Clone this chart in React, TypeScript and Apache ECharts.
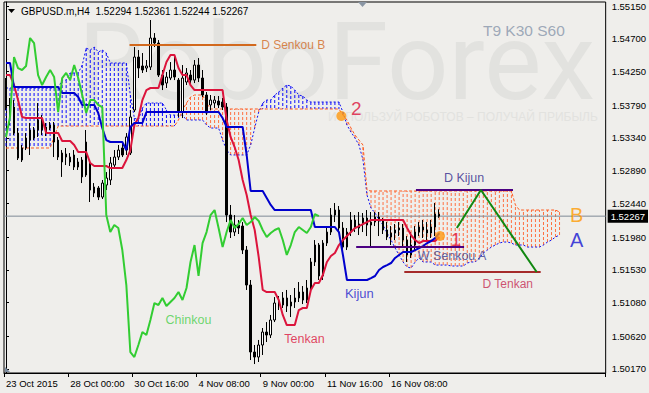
import React, { useEffect, useRef } from 'react';
import * as echarts from 'echarts';

// ---------- axis data ----------
const xTickLabels = ['23 Oct 2015', '28 Oct 00:00', '30 Oct 16:00', '4 Nov 08:00', '9 Nov 00:00', '11 Nov 16:00', '16 Nov 08:00'];
const barsPerLabel = 16;
const totalSlots = 150;
const yTicks = [1.5017, 1.5062, 1.5108, 1.5153, 1.5198, 1.5244, 1.5289, 1.5334, 1.5379, 1.5425, 1.547, 1.5515];
const yMin = 1.50115;
const yMax = 1.55205;
const lastPrice = 1.52267;
const headerText = 'GBPUSD.m,H4  1.52294 1.52361 1.52244 1.52267';
const chinkouShift = 30;

// ---------- candles (H4) ----------
const opens = [
  1.54134, 1.53792, 1.53764, 1.53407, 1.53037, 1.53202, 1.53311, 1.53339, 1.53449, 1.53613,
  1.53407, 1.53476, 1.53517, 1.53311, 1.53133, 1.53078, 1.53010, 1.53106, 1.52941, 1.53037,
  1.52831, 1.52996, 1.52667, 1.52653, 1.52529, 1.52694, 1.52763, 1.52968, 1.53078, 1.53202,
  1.53174, 1.53133, 1.53723, 1.54450, 1.54327, 1.54299, 1.54313, 1.54711, 1.54642, 1.54203,
  1.54093, 1.54162, 1.54272, 1.54134, 1.53695, 1.54107, 1.54203, 1.54134, 1.54340, 1.54162,
  1.53929, 1.53792, 1.53819, 1.53846, 1.53833, 1.53764, 1.52282, 1.52049, 1.52145, 1.52131,
  1.51802, 1.51322, 1.50403, 1.50334, 1.50499, 1.50677, 1.50636, 1.50842, 1.51075, 1.51048,
  1.51144, 1.51034, 1.51089, 1.51144, 1.51226, 1.51116, 1.51281, 1.51638, 1.51871, 1.51446,
  1.51898, 1.52049, 1.52282, 1.52351, 1.52104, 1.51843, 1.52049, 1.52214, 1.52104, 1.52159,
  1.52241, 1.52145, 1.52186, 1.52255, 1.52200, 1.52077, 1.51981, 1.52035, 1.52077, 1.52104,
  1.51939, 1.51734, 1.51871, 1.52049, 1.52118, 1.52077, 1.52035, 1.52118, 1.52294,
];
const closes = [
  1.53764, 1.53695, 1.53407, 1.53064, 1.53202, 1.53339, 1.53449, 1.53449, 1.53586, 1.53449,
  1.53490, 1.53517, 1.53284, 1.53078, 1.53010, 1.53119, 1.53078, 1.52941, 1.53010, 1.52805,
  1.53284, 1.52625, 1.52584, 1.52529, 1.52721, 1.52790, 1.52996, 1.53078, 1.53174, 1.53106,
  1.53353, 1.53627, 1.54450, 1.54299, 1.54272, 1.54327, 1.54711, 1.54642, 1.54203, 1.54066,
  1.54176, 1.54272, 1.54176, 1.53695, 1.54162, 1.54231, 1.54134, 1.54340, 1.54162, 1.53929,
  1.53682, 1.53860, 1.53860, 1.53792, 1.53764, 1.52282, 1.52049, 1.52145, 1.52104, 1.51802,
  1.51322, 1.50403, 1.50334, 1.50499, 1.50677, 1.50636, 1.50842, 1.51075, 1.51048, 1.51144,
  1.51034, 1.51089, 1.51144, 1.51226, 1.51116, 1.51281, 1.51638, 1.51871, 1.51446, 1.51898,
  1.52049, 1.52282, 1.52351, 1.52104, 1.51843, 1.52049, 1.52214, 1.52104, 1.52159, 1.52241,
  1.52145, 1.52186, 1.52255, 1.52200, 1.52077, 1.51981, 1.52035, 1.52077, 1.52104, 1.51939,
  1.51734, 1.51871, 1.52049, 1.52118, 1.52077, 1.52035, 1.52118, 1.52296, 1.52267,
];
const lows = [
  1.53723, 1.53517, 1.53380, 1.53037, 1.53010, 1.53174, 1.53106, 1.53311, 1.53353, 1.53380,
  1.53366, 1.53449, 1.53078, 1.53037, 1.52805, 1.52968, 1.52955, 1.52900, 1.52900, 1.52721,
  1.52805, 1.52461, 1.52529, 1.52488, 1.52502, 1.52625, 1.52694, 1.52941, 1.53037, 1.53078,
  1.53106, 1.53106, 1.53695, 1.54162, 1.54231, 1.54244, 1.54272, 1.54587, 1.54176, 1.53997,
  1.54025, 1.54134, 1.54134, 1.53627, 1.53613, 1.54066, 1.54066, 1.54093, 1.54107, 1.53901,
  1.53654, 1.53723, 1.53750, 1.53750, 1.53723, 1.52186, 1.51967, 1.51994, 1.52022, 1.51747,
  1.51254, 1.50293, 1.50238, 1.50266, 1.50362, 1.50540, 1.50595, 1.50814, 1.50979, 1.51007,
  1.50952, 1.50883, 1.51007, 1.51089, 1.51061, 1.51075, 1.51226, 1.51583, 1.51391, 1.51391,
  1.51857, 1.52008, 1.52186, 1.52049, 1.51775, 1.51802, 1.51994, 1.52049, 1.52008, 1.52049,
  1.51994, 1.51843, 1.52131, 1.51994, 1.52022, 1.51939, 1.51871, 1.51939, 1.51994, 1.51857,
  1.51638, 1.51693, 1.51802, 1.51994, 1.51967, 1.51939, 1.51967, 1.51994, 1.52244,
];
const highs = [
  1.54162, 1.53888, 1.53860, 1.53476, 1.53243, 1.53407, 1.53545, 1.53490, 1.53819, 1.53654,
  1.53545, 1.53558, 1.53558, 1.53353, 1.53174, 1.53202, 1.53133, 1.53174, 1.53064, 1.53078,
  1.53449, 1.53037, 1.52721, 1.52680, 1.52763, 1.52872, 1.53078, 1.53174, 1.53243, 1.53270,
  1.53407, 1.53723, 1.54587, 1.54546, 1.54505, 1.54409, 1.54958, 1.54779, 1.54683, 1.54272,
  1.54244, 1.54381, 1.54477, 1.54162, 1.54340, 1.54299, 1.54272, 1.54409, 1.54436, 1.54272,
  1.53970, 1.53929, 1.53915, 1.53915, 1.53888, 1.53819, 1.52420, 1.52282, 1.52214, 1.52186,
  1.51857, 1.51391, 1.50499, 1.50568, 1.50732, 1.50814, 1.50911, 1.51157, 1.51171, 1.51226,
  1.51254, 1.51185, 1.51281, 1.51363, 1.51308, 1.51391, 1.51693, 1.51939, 1.51898, 1.51939,
  1.52104, 1.52378, 1.52447, 1.52406, 1.52186, 1.52104, 1.52324, 1.52282, 1.52324, 1.52310,
  1.52351, 1.52324, 1.52324, 1.52324, 1.52241, 1.52186, 1.52131, 1.52159, 1.52186, 1.52159,
  1.51994, 1.52049, 1.52131, 1.52186, 1.52214, 1.52186, 1.52214, 1.52447, 1.52361,
];

// ---------- Ichimoku lines ----------
const tenkan = [
  1.54203, 1.54203, 1.54066, 1.53860, 1.53627, 1.53613, 1.53613, 1.53613, 1.53613, 1.53613,
  1.53407, 1.53407, 1.53407, 1.53407, 1.53298, 1.53298, 1.53298, 1.53243, 1.53147, 1.53147,
  1.53147, 1.52996, 1.52955, 1.52955, 1.52955, 1.52955, 1.52927, 1.52927, 1.52927, 1.52927,
  1.53037, 1.53174, 1.53517, 1.53613, 1.53860, 1.53997, 1.54025, 1.54025, 1.54025, 1.54203,
  1.54381, 1.54477, 1.54477, 1.54299, 1.54203, 1.54203, 1.54066, 1.53997, 1.53997, 1.53997,
  1.53997, 1.53997, 1.53997, 1.53997, 1.53997, 1.53586, 1.53353, 1.53215, 1.53037, 1.52763,
  1.52557, 1.52282, 1.52077, 1.51706, 1.51254, 1.51226, 1.51226, 1.51226, 1.51116, 1.50911,
  1.50773, 1.50773, 1.50773, 1.50979, 1.51007, 1.51007, 1.51254, 1.51350, 1.51350, 1.51459,
  1.51638, 1.51720, 1.51761, 1.51871, 1.51939, 1.51994, 1.52049, 1.52104, 1.52131, 1.52159,
  1.52186, 1.52214, 1.52214, 1.52214, 1.52214, 1.52214, 1.52214, 1.52214, 1.52214, 1.52214,
  1.52104, 1.52008, 1.51939, 1.51898, 1.51926, 1.51926, 1.51926, 1.51926, 1.51981,
];
const kijun = [
  1.54368, 1.54368, 1.54038, 1.54038, 1.54038, 1.54038, 1.54038, 1.54038, 1.54038, 1.54038,
  1.54038, 1.54038, 1.54038, 1.54038, 1.53956, 1.53956, 1.53956, 1.53956, 1.53901, 1.53792,
  1.53792, 1.53792, 1.53792, 1.53682, 1.53476, 1.53311, 1.53284, 1.53284, 1.53284, 1.53284,
  1.53174, 1.53490, 1.53545, 1.53545, 1.53545, 1.53695, 1.53695, 1.53695, 1.53695, 1.53695,
  1.53695, 1.53695, 1.53695, 1.53695, 1.53695, 1.53695, 1.53695, 1.53695, 1.53695, 1.53695,
  1.53695, 1.53695, 1.53695, 1.53695, 1.53613, 1.53490, 1.53490, 1.53490, 1.53490, 1.53490,
  1.53106, 1.52612, 1.52612, 1.52612, 1.52612, 1.52516, 1.52420, 1.52351, 1.52351, 1.52351,
  1.52351, 1.52351, 1.52351, 1.52351, 1.52351, 1.52351, 1.52351, 1.52118, 1.52118, 1.52118,
  1.52118, 1.52118, 1.52118, 1.52049, 1.51734, 1.51391, 1.51391, 1.51391, 1.51391, 1.51391,
  1.51391, 1.51418, 1.51446, 1.51528, 1.51569, 1.51596, 1.51624, 1.51693, 1.51734, 1.51775,
  1.51775, 1.51775, 1.51802, 1.51830, 1.51857, 1.51898, 1.51926, 1.51967, 1.52035,
];
const senkouA = [
  1.54025, 1.54025, 1.54025, 1.54025, 1.54025, 1.54025, 1.54025, 1.54025, 1.54025, 1.54025,
  1.54025, 1.54025, 1.54025, 1.54025, 1.54134, 1.54134, 1.54231, 1.54231, 1.54231, 1.54340,
  1.54573, 1.54546, 1.54587, 1.54519, 1.54546, 1.54505, 1.54368, 1.54368, 1.54368, 1.54368,
  1.54368, 1.53929, 1.53613, 1.53586, 1.53750, 1.53819, 1.53819, 1.53819, 1.53819, 1.53819,
  1.53723, 1.53654, 1.53654, 1.53654, 1.53654, 1.53586, 1.53586, 1.53586, 1.53586, 1.53586,
  1.53517, 1.53476, 1.53476, 1.53476, 1.53311, 1.53174, 1.53106, 1.53106, 1.53106, 1.53106,
  1.53106, 1.53243, 1.53476, 1.53695, 1.53819, 1.53860, 1.53860, 1.53929, 1.53970, 1.54025,
  1.54066, 1.54052, 1.53997, 1.53929, 1.53915, 1.53860, 1.53833, 1.53833, 1.53833, 1.53833,
  1.53833, 1.53833, 1.53833, 1.53833, 1.53695, 1.53517, 1.53421, 1.53339, 1.53243, 1.53037,
  1.52557, 1.52378, 1.52310, 1.52214, 1.52145, 1.52035, 1.51939, 1.51830, 1.51734, 1.51638,
  1.51569, 1.51555, 1.51638, 1.51693, 1.51638, 1.51638, 1.51638, 1.51596, 1.51596, 1.51596,
  1.51596, 1.51583, 1.51583, 1.51583, 1.51583, 1.51624, 1.51638, 1.51638, 1.51693, 1.51761,
  1.51802, 1.51843, 1.51871, 1.51898, 1.51912, 1.51912, 1.51898, 1.51871, 1.51871, 1.51871,
  1.51843, 1.51843, 1.51843, 1.51843, 1.51871, 1.51912, 1.51939, 1.51981, 1.52008,
];
const senkouB = [
  1.53202, 1.53202, 1.53202, 1.53202, 1.53202, 1.53202, 1.53202, 1.53202, 1.53202, 1.53202,
  1.53202, 1.53202, 1.53353, 1.53503, 1.53503, 1.53503, 1.53503, 1.53503, 1.53503, 1.53503,
  1.53503, 1.53503, 1.53503, 1.53503, 1.53503, 1.53503, 1.53503, 1.53503, 1.53503, 1.53503,
  1.53503, 1.53503, 1.53503, 1.53503, 1.53503, 1.53503, 1.53503, 1.53503, 1.53503, 1.53503,
  1.53503, 1.53503, 1.53503, 1.53586, 1.53723, 1.53819, 1.53901, 1.53929, 1.53929, 1.53929,
  1.53819, 1.53737, 1.53737, 1.53737, 1.53737, 1.53737, 1.53737, 1.53737, 1.53737, 1.53737,
  1.53737, 1.53737, 1.53737, 1.53737, 1.53737, 1.53737, 1.53737, 1.53737, 1.53737, 1.53737,
  1.53737, 1.53737, 1.53737, 1.53737, 1.53737, 1.53737, 1.53737, 1.53737, 1.53737, 1.53737,
  1.53737, 1.53737, 1.53737, 1.53737, 1.53654, 1.53586, 1.53476, 1.53380, 1.53311, 1.53243,
  1.52625, 1.52612, 1.52612, 1.52612, 1.52612, 1.52612, 1.52612, 1.52612, 1.52612, 1.52612,
  1.52612, 1.52612, 1.52612, 1.52612, 1.52612, 1.52612, 1.52612, 1.52612, 1.52612, 1.52612,
  1.52612, 1.52612, 1.52612, 1.52612, 1.52612, 1.52612, 1.52612, 1.52612, 1.52612, 1.52612,
  1.52612, 1.52612, 1.52612, 1.52612, 1.52612, 1.52612, 1.52612, 1.52420, 1.52351, 1.52351,
  1.52351, 1.52351, 1.52351, 1.52351, 1.52351, 1.52351, 1.52351, 1.52351, 1.52324,
];

// ---------- drawn objects (bar index, price) ----------
const levelLines = [
  { name: 'D Senkou B', from: 30.8, to: 62.4, price: 1.54615 },
  { name: 'D Kijun', from: 102.2, to: 126.4, price: 1.52625 },
  { name: 'W Senkou A', from: 87.3, to: 114.2, price: 1.51843 },
  { name: 'D Tenkan', from: 99.3, to: 133.3, price: 1.515 },
];
const zigzagBars = [112.4, 118.4, 132.3];
const zigzagPrices = [1.52104, 1.52625, 1.515];
const dotBars = [83.6, 108.2];
const dotPrices = [1.53641, 1.51994];
const noteTexts = ['D Senkou B', 'T9 K30 S60', '2', 'D Kijun', 'B', 'A', '1', 'W Senkou A', 'D Tenkan', 'Kijun', 'Tenkan', 'Chinkou'];
const noteBars = [71.6, 129.1, 87.3, 114.2, 142.3, 142.3, 112.2, 111.2, 125.1, 88.1, 74.4, 45.5];
const notePrices = [1.54615, 1.5482, 1.5375, 1.5279, 1.52282, 1.51939, 1.51953, 1.5172, 1.51336, 1.51212, 1.50581, 1.50842];

// ---------- styles ----------
const FONT = 'Liberation Sans, Arial, sans-serif';
const lineColors: Record<string, string> = {
  'D Senkou B': '#d2691e',
  'D Kijun': '#4b0082',
  'W Senkou A': '#4b0082',
  'D Tenkan': '#a52a2a',
};
const noteStyles: Record<string, { color: string; size: number }> = {
  'D Senkou B': { color: '#d2691e', size: 12 },
  'T9 K30 S60': { color: '#8795aa', size: 15.5 },
  '2': { color: '#dc143c', size: 19 },
  'D Kijun': { color: '#30288c', size: 12.5 },
  B: { color: '#ff9a00', size: 20 },
  A: { color: '#1414d2', size: 20 },
  '1': { color: '#dc143c', size: 19 },
  'W Senkou A': { color: '#3a3f94', size: 12.5 },
  'D Tenkan': { color: '#c42850', size: 12 },
  Kijun: { color: '#1c1ccc', size: 13 },
  Tenkan: { color: '#dc143c', size: 12.5 },
  Chinkou: { color: '#4ccf4c', size: 12.5 },
};

export default function App() {
  const ref = useRef<HTMLDivElement>(null);

  useEffect(() => {
    if (!ref.current) return;
    const chart = echarts.init(ref.current, undefined, { renderer: 'svg' });
    const categories = Array.from({ length: totalSlots }, (_, i) => String(i));
    const isTick = (idx: number) => idx % barsPerLabel === 0 && idx / barsPerLabel < xTickLabels.length;

    const candles = opens.map((o, i) => [o, closes[i], lows[i], highs[i]]);
    const cloud = senkouA.map((a, i) => [i, a, senkouB[i]]);
    const chinkou = closes.slice(chinkouShift);

    const series: any[] = [
      {
        type: 'custom',
        name: 'cloud',
        xAxisIndex: 0,
        z: 1,
        silent: true,
        encode: { x: 0, y: [1, 2] },
        data: cloud,
        renderItem: (params: any, api: any) => {
          const i = api.value(0);
          const a = api.value(1);
          const b = api.value(2);
          const p1 = api.coord([i, a]);
          const p2 = api.coord([i, b]);
          return {
            type: 'line',
            shape: { x1: p1[0], y1: p1[1], x2: p2[0], y2: p2[1] },
            style: { stroke: a > b ? '#0a0aff' : '#ff7040', lineWidth: 1, lineDash: [3, 2] },
          };
        },
      },
      {
        type: 'line', name: 'Senkou A', data: senkouA, xAxisIndex: 0, z: 1, showSymbol: false, silent: true,
        lineStyle: { color: '#1010ee', width: 1, type: [2, 2] },
      },
      {
        type: 'line', name: 'Senkou B', data: senkouB, xAxisIndex: 0, z: 1, showSymbol: false, silent: true,
        lineStyle: { color: '#ff5a1e', width: 1, type: [3, 2] },
      },
      {
        type: 'line', name: 'Bid', xAxisIndex: 1, z: 1, showSymbol: false, silent: true,
        data: [[-0.5, lastPrice], [totalSlots - 0.5, lastPrice]],
        lineStyle: { color: '#7f8a96', width: 1 },
        endLabel: {
          show: true, formatter: lastPrice.toFixed(5), color: '#ffffff',
          backgroundColor: '#000000', padding: [2, 3, 1, 3], fontSize: 9.5, fontFamily: FONT, distance: 2,
        },
      },
      {
        type: 'candlestick', name: 'GBPUSD', data: candles, xAxisIndex: 0, z: 2, barWidth: 2,
        itemStyle: { color: '#ffffff', color0: '#000000', borderColor: '#000000', borderColor0: '#000000', borderWidth: 1 },
      },
      {
        type: 'line', name: 'Tenkan', data: tenkan, xAxisIndex: 0, z: 3, showSymbol: false, silent: true,
        lineStyle: { color: '#dc143c', width: 2 },
      },
      {
        type: 'line', name: 'Kijun', data: kijun, xAxisIndex: 0, z: 3, showSymbol: false, silent: true,
        lineStyle: { color: '#0000cd', width: 2 },
      },
      {
        type: 'line', name: 'Chinkou', data: chinkou, xAxisIndex: 0, z: 3, showSymbol: false, silent: true,
        lineStyle: { color: '#32cd32', width: 2 },
      },
    ];

    levelLines.forEach((l) => {
      series.push({
        type: 'line', name: l.name, xAxisIndex: 1, z: 4, showSymbol: false, silent: true,
        data: [[l.from, l.price], [l.to, l.price]],
        lineStyle: { color: lineColors[l.name], width: 2 },
      });
    });
    series.push({
      type: 'line', name: 'zigzag', xAxisIndex: 1, z: 4, showSymbol: false, silent: true,
      data: zigzagBars.map((b, i) => [b, zigzagPrices[i]]),
      lineStyle: { color: '#118811', width: 2 },
    });
    series.push({
      type: 'scatter', name: 'dots', xAxisIndex: 1, z: 5, silent: true, symbolSize: 10,
      data: dotBars.map((b, i) => [b, dotPrices[i]]),
      itemStyle: { color: '#ff9a10' },
    });
    series.push({
      type: 'scatter', name: 'notes', xAxisIndex: 1, z: 6, silent: true, symbol: 'rect', symbolSize: 1,
      itemStyle: { color: 'rgba(0,0,0,0)' },
      data: noteTexts.map((t, i) => ({
        value: [noteBars[i], notePrices[i]],
        label: {
          show: true, position: 'inside', formatter: t, color: noteStyles[t].color,
          fontSize: noteStyles[t].size, fontFamily: FONT,
        },
      })),
    });

    const option: any = {
      animation: false,
      backgroundColor: '#efeeeb',
      grid: { left: 4, right: 42, top: 2, bottom: 20, show: true, borderColor: '#000', borderWidth: 1, backgroundColor: 'transparent' },
      xAxis: [
        {
          type: 'category', data: categories, boundaryGap: true,
          axisLine: { show: true, lineStyle: { color: '#000' } },
          axisTick: { show: true, interval: (idx: number) => isTick(idx), length: 4, lineStyle: { color: '#000' } },
          axisLabel: {
            interval: (idx: number) => isTick(idx),
            formatter: (_v: string, idx: number) => xTickLabels[idx / barsPerLabel] || '',
            align: 'left', color: '#000', fontSize: 9.5, fontFamily: FONT, margin: 5,
          },
          splitLine: { show: false },
        },
        { type: 'value', min: -0.5, max: totalSlots - 0.5, show: false },
      ],
      yAxis: {
        type: 'value', position: 'right', min: yMin, max: yMax, scale: true,
        splitLine: { show: false },
        axisLine: { show: true, lineStyle: { color: '#000' } },
        axisTick: { show: true, length: 3, customValues: yTicks, lineStyle: { color: '#000' } },
        axisLabel: {
          customValues: yTicks, formatter: (v: number) => v.toFixed(5),
          color: '#000', fontSize: 9.5, fontFamily: FONT, margin: 6,
        },
      },
      graphic: [
        {
          type: 'text', z: -10, silent: true, x: 78, y: 62,
          style: { text: 'RoboForex', fill: '#e2e2df', font: '108px Roboto, Liberation Sans, sans-serif', textVerticalAlign: 'middle' },
        },
        {
          type: 'text', z: -10, silent: true, x: 328, y: 117,
          style: { text: 'ИСПОЛЬЗУЙ РОБОТОВ – ПОЛУЧАЙ ПРИБЫЛЬ', fill: '#e2e2df', font: '12px Liberation Sans, sans-serif', textVerticalAlign: 'middle' },
        },
        { type: 'polygon', z: 10, silent: true, shape: { points: [[8, 9], [15, 9], [11.5, 13]] }, style: { fill: '#000' } },
        {
          type: 'text', z: 10, silent: true, x: 21, y: 11,
          style: { text: headerText, fill: '#000', font: '10px Liberation Sans, sans-serif', textVerticalAlign: 'middle' },
        },
        { type: 'polygon', z: 10, silent: true, shape: { points: [[358, 2], [367, 2], [362.5, 7]] }, style: { fill: '#8a96a4' } },
        { type: 'polygon', z: 10, silent: true, shape: { points: [[5, 367], [5, 372], [10, 372]] }, style: { fill: '#7c8ca0' } },
      ],
      series,
    };
    chart.setOption(option);
    return () => chart.dispose();
  }, []);

  return <div ref={ref} style={{ position: 'absolute', left: 0, top: 0, width: 649, height: 393 }} />;
}
